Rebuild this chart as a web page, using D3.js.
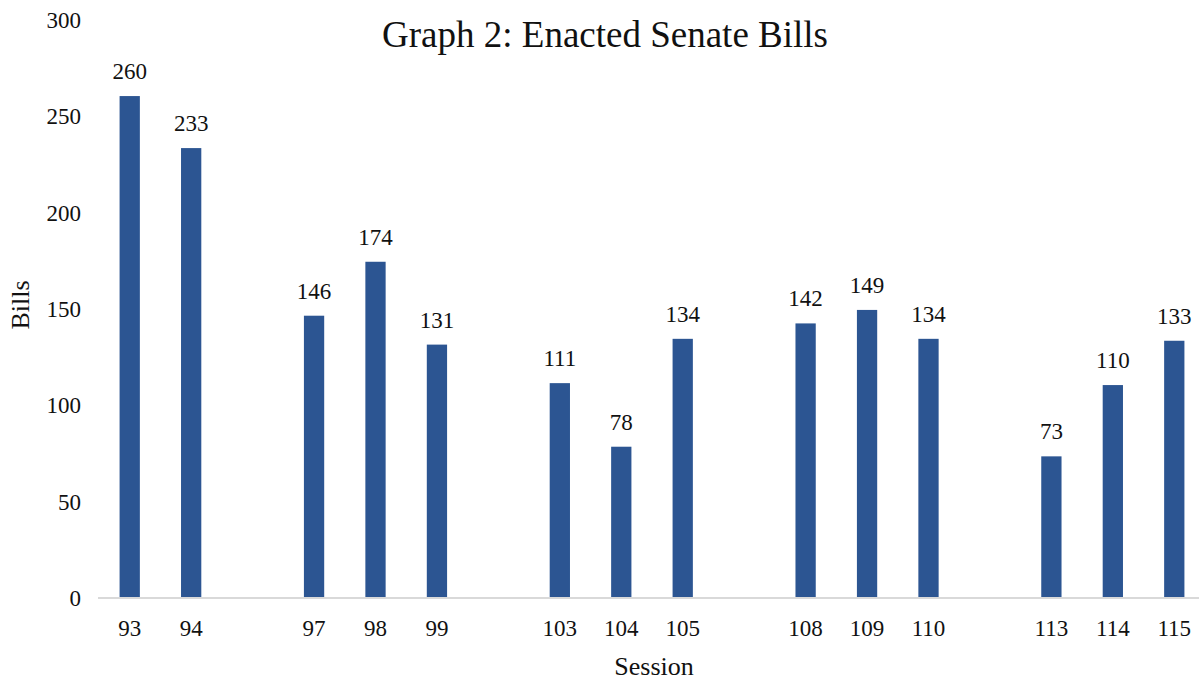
<!DOCTYPE html>
<html>
<head>
<meta charset="utf-8">
<script src="https://cdn.jsdelivr.net/npm/d3@7"></script>
<style>
  body { margin: 0; background: #fff; }
  svg text { font-family: "Liberation Serif", "Times New Roman", Times, serif; fill: #111; }
</style>
</head>
<body>
<div id="chart"></div>
<script>
// Sessions and enacted bills
var sessions = ["93", "94", "97", "98", "99", "103", "104", "105", "108", "109", "110", "113", "114", "115"];
var bills = [260, 233, 146, 174, 131, 111, 78, 134, 142, 149, 134, 73, 110, 133];
var yTicks = [0, 50, 100, 150, 200, 250, 300];

var drawChart = function(){
	const width = 1199;
	const height = 681;
	var barColor = "#2c5592";
	var axisColor = "#d9d9d9";

	var svg = d3.select("#chart")
		.append("svg")
		.attr("width", width)
		.attr("height", height)
		.attr("font-family", "Liberation Serif, serif");

	// one empty slot wherever the sessions jump
	var slots = [];
	sessions.forEach(function(s, i){
		if (i > 0 && +s - +sessions[i-1] > 1) slots.push("gap" + i);
		slots.push(s);
	});

	var x = d3.scaleBand()
		.domain(slots)
		.range([99, 1205])
		.paddingInner(0.67)
		.paddingOuter(0.335);

	var y = d3.scaleLinear()
		.domain([0, 300])
		.range([597, 19]);

	var data = sessions.map(function(s, i){ return {session: s, value: bills[i]}; });

	// title
	svg.append("text")
		.attr("x", 605)
		.attr("y", 47)
		.attr("text-anchor", "middle")
		.style("font-size", "37px")
		.text("Graph 2: Enacted Senate Bills");

	// y axis labels (no line)
	svg.selectAll(".ytick")
		.data(yTicks)
		.enter().append("text")
		.attr("class", "ytick")
		.attr("x", 81)
		.attr("y", function(d){ return y(d) + 9; })
		.attr("text-anchor", "end")
		.style("font-size", "23px")
		.text(function(d){ return d; });

	svg.append("text")
		.attr("transform", "translate(29,305) rotate(-90)")
		.attr("text-anchor", "middle")
		.style("font-size", "26px")
		.text("Bills");

	// bars
	svg.selectAll(".bar")
		.data(data)
		.enter().append("rect")
		.attr("class", "bar")
		.attr("x", function(d){ return x(d.session); })
		.attr("width", x.bandwidth())
		.attr("y", function(d){ return y(d.value); })
		.attr("height", function(d){ return y(0) - y(d.value); })
		.attr("fill", barColor);

	// value labels
	svg.selectAll(".val")
		.data(data)
		.enter().append("text")
		.attr("class", "val")
		.attr("x", function(d){ return x(d.session) + x.bandwidth() / 2; })
		.attr("y", function(d){ return y(d.value) - 17; })
		.attr("text-anchor", "middle")
		.style("font-size", "23px")
		.text(function(d){ return d.value; });

	// x axis line
	svg.append("line")
		.attr("x1", 98).attr("x2", width)
		.attr("y1", y(0) + 1).attr("y2", y(0) + 1)
		.attr("stroke", axisColor)
		.attr("stroke-width", 2);

	svg.selectAll(".xtick")
		.data(sessions)
		.enter().append("text")
		.attr("class", "xtick")
		.attr("x", function(d){ return x(d) + x.bandwidth() / 2; })
		.attr("y", 636)
		.attr("text-anchor", "middle")
		.style("font-size", "23px")
		.text(function(d){ return d; });

	svg.append("text")
		.attr("x", 654)
		.attr("y", 675)
		.attr("text-anchor", "middle")
		.style("font-size", "26px")
		.text("Session");
};

drawChart();
</script>
</body>
</html>
